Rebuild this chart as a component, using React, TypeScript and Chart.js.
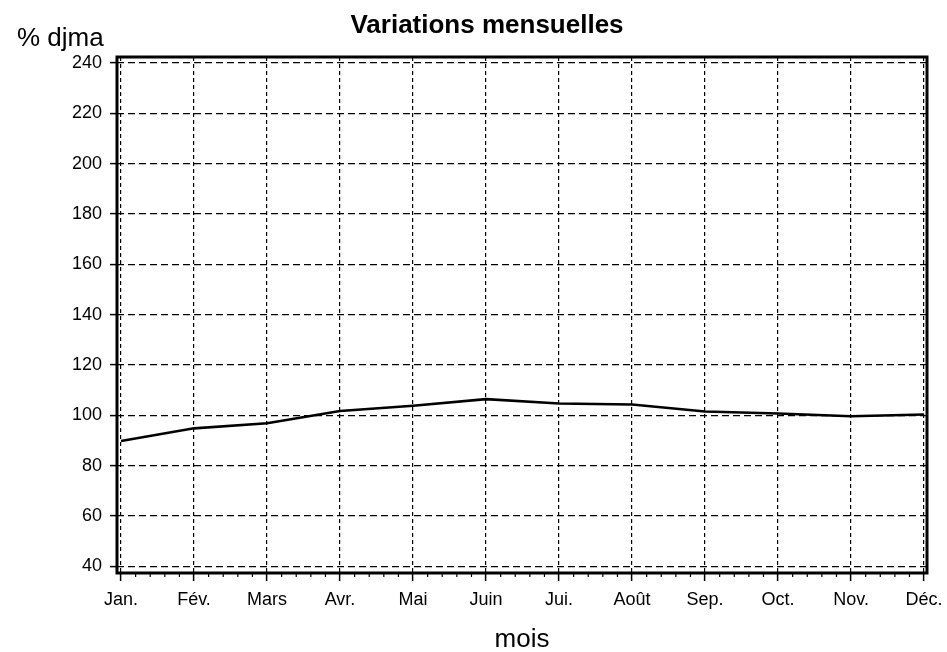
import React, { useEffect, useRef } from "react";
import { Chart, registerables } from "chart.js";

Chart.register(...registerables);

const months = ["Jan.", "Fév.", "Mars", "Avr.", "Mai", "Juin", "Jui.", "Août", "Sep.", "Oct.", "Nov.", "Déc."];
const djma = [89.8, 94.8, 96.8, 101.7, 103.8, 106.4, 104.7, 104.3, 101.5, 100.7, 99.6, 100.3];
const yTicks = [40, 60, 80, 100, 120, 140, 160, 180, 200, 220, 240];
const titleText = "Variations mensuelles";
const yLabel = "% djma";
const xLabel = "mois";

const FONT = "'Liberation Sans', Arial, sans-serif";

const isWhole = (v: number) => Math.abs(v - Math.round(v)) < 1e-6;

const decorPlugin = {
  id: "decor",
  afterDraw(chart: any) {
    const { ctx, chartArea } = chart;
    const xs = chart.scales.x;
    ctx.save();
    // frame
    ctx.strokeStyle = "#000";
    ctx.lineWidth = 3;
    ctx.setLineDash([]);
    ctx.strokeRect(chartArea.left, chartArea.top, chartArea.right - chartArea.left, chartArea.bottom - chartArea.top);
    // minor ticks on x axis
    ctx.lineWidth = 1.2;
    for (let i = 0; i < months.length - 1; i++) {
      for (let k = 1; k < 5; k++) {
        const px = xs.getPixelForValue(i + k / 5);
        ctx.beginPath();
        ctx.moveTo(px, chartArea.bottom);
        ctx.lineTo(px, chartArea.bottom + 4);
        ctx.stroke();
      }
    }
    // texts
    ctx.fillStyle = "#000";
    ctx.textBaseline = "alphabetic";
    ctx.font = `bold 26px ${FONT}`;
    ctx.textAlign = "center";
    ctx.fillText(titleText, 487, 33);
    ctx.font = `26px ${FONT}`;
    ctx.textAlign = "left";
    ctx.fillText(yLabel, 17, 46);
    ctx.textAlign = "center";
    ctx.fillText(xLabel, (chartArea.left + chartArea.right) / 2, 647);
    ctx.restore();
  },
};

export default function App() {
  const ref = useRef<HTMLCanvasElement | null>(null);
  useEffect(() => {
    if (!ref.current) return;
    const chart = new Chart(ref.current, {
      type: "line",
      data: {
        datasets: [
          {
            data: djma.map((v, i) => ({ x: i, y: v })),
            borderColor: "#000",
            borderWidth: 2.6,
            pointRadius: 0,
            tension: 0,
            fill: false,
          },
        ],
      },
      options: {
        animation: false,
        responsive: false,
        layout: { padding: { top: 57, right: 20, left: 0, bottom: 0 } },
        plugins: { legend: { display: false }, tooltip: { enabled: false }, title: { display: false } },
        scales: {
          x: {
            type: "linear",
            min: -0.055,
            max: 11.04,
            afterFit: (s: any) => {
              s.height = 79;
              s.paddingLeft = 0;
              s.paddingRight = 0;
            },
            ticks: {
              stepSize: 1,
              includeBounds: false,
              autoSkip: false,
              maxRotation: 0,
              padding: 8,
              color: "#000",
              font: { family: FONT, size: 18 },
              callback: (v: any) => (isWhole(v) && v >= 0 && v < months.length ? months[Math.round(v)] : ""),
            },
            grid: {
              color: (c: any) => (c.tick && isWhole(c.tick.value) ? "#000" : "rgba(0,0,0,0)"),
              lineWidth: 1.2,
              drawTicks: true,
              tickLength: 8,
              tickColor: "#000",
              tickWidth: 1.5,
            },
            border: { display: false, dash: [4, 3] },
          },
          y: {
            min: 37.3,
            max: 242.4,
            afterFit: (s: any) => {
              s.width = 117;
              s.paddingTop = 0;
              s.paddingBottom = 0;
            },
            ticks: {
              stepSize: 20,
              includeBounds: false,
              autoSkip: false,
              padding: 8,
              color: "#000",
              font: { family: FONT, size: 18 },
              callback: (v: any) => (yTicks.includes(v) ? String(v) : ""),
            },
            grid: {
              color: (c: any) => (c.tick && yTicks.includes(c.tick.value) ? "#000" : "rgba(0,0,0,0)"),
              lineWidth: 1.2,
              drawTicks: true,
              tickLength: 7,
              tickColor: "#000",
              tickWidth: 1.5,
            },
            border: { display: false, dash: [7, 4] },
          },
        },
      },
      plugins: [decorPlugin],
    });
    return () => chart.destroy();
  }, []);
  return (
    <div style={{ position: "absolute", left: 0, top: 0, width: 947, height: 652, background: "#fff" }}>
      <canvas ref={ref} width={947} height={652} style={{ display: "block" }} />
    </div>
  );
}
